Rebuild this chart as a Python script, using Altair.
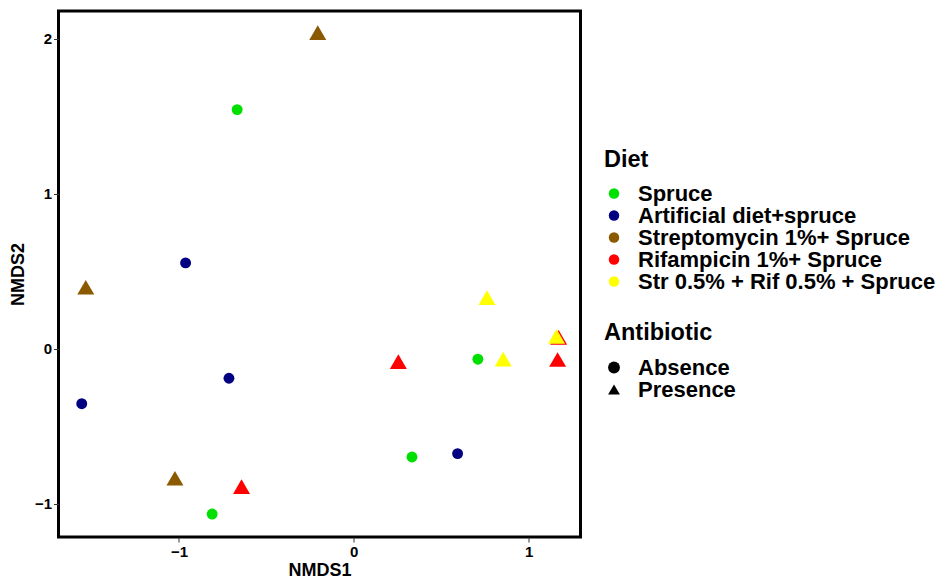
import altair as alt
import pandas as pd

# NMDS ordination scores per sample
nmds1 = [-0.667, 0.710, 0.333, -0.810,
         -0.962, -0.714, -1.556, 0.594,
         -0.206, -1.533, -1.023,
         -0.642, 0.255, 1.172, 1.166,
         0.762, 1.160, 0.855]
nmds2 = [1.544, -0.066, -0.697, -1.065,
         0.555, -0.189, -0.353, -0.675,
         2.040, 0.398, -0.834,
         -0.888, -0.082, 0.075, -0.068,
         0.331, 0.081, -0.065]
diet = (["Spruce"] * 4 + ["Artificial diet+spruce"] * 4
        + ["Streptomycin 1%+ Spruce"] * 3 + ["Rifampicin 1%+ Spruce"] * 4
        + ["Str 0.5% + Rif 0.5% + Spruce"] * 3)
antibiotic = ["Absence"] * 8 + ["Presence"] * 10

diet_levels = ["Spruce", "Artificial diet+spruce", "Streptomycin 1%+ Spruce",
               "Rifampicin 1%+ Spruce", "Str 0.5% + Rif 0.5% + Spruce"]
diet_colors = ["#00E000", "#000080", "#8B5A00", "#FF0000", "#FFFF00"]
ab_levels = ["Absence", "Presence"]

df = pd.DataFrame({"NMDS1": nmds1, "NMDS2": nmds2,
                   "Diet": diet, "Antibiotic": antibiotic})

FONT = "Liberation Sans"

chart = alt.Chart(df).transform_calculate(
    # triangles drawn larger than circles, as in R's pch 16 / 17
    marker_size="datum.Antibiotic == 'Presence' ? 289 : 119"
).mark_point(filled=True, opacity=1, strokeWidth=0).encode(
    x=alt.X("NMDS1:Q",
            scale=alt.Scale(domain=[-1.689, 1.297], nice=False, zero=False),
            axis=alt.Axis(values=[-1, 0, 1], title="NMDS1")),
    y=alt.Y("NMDS2:Q",
            scale=alt.Scale(domain=[-1.213, 2.18], nice=False, zero=False),
            axis=alt.Axis(values=[-1, 0, 1, 2], title="NMDS2")),
    color=alt.Color("Diet:N",
                    scale=alt.Scale(domain=diet_levels, range=diet_colors),
                    legend=alt.Legend(title="Diet", orient="none",
                                      legendX=545.5, legendY=137,
                                      symbolType="circle", symbolSize=110,
                                      symbolOffset=-1, labelOffset=13,
                                      rowPadding=0, titlePadding=11)),
    shape=alt.Shape("Antibiotic:N",
                    scale=alt.Scale(domain=ab_levels,
                                    range=["circle", "triangle-up"]),
                    legend=alt.Legend(title="Antibiotic", orient="none",
                                      legendX=545.5, legendY=310,
                                      symbolFillColor="black",
                                      symbolStrokeWidth=0, symbolSize=140,
                                      symbolOffset=-1, labelOffset=13,
                                      rowPadding=0, titlePadding=12)),
    size=alt.Size("marker_size:Q", scale=None),
).properties(
    width=522, height=526,
    background="white",
    autosize=alt.AutoSizeParams(type="none"),
    padding={"left": 58.5, "top": 11, "right": 356.5, "bottom": 46},
).configure_view(
    stroke="black", strokeWidth=3, fill="white"
).configure_axis(
    grid=False, domain=False,
    tickColor="#333333", tickSize=5, tickWidth=1,
    labelFont=FONT, labelFontSize=15, labelFontWeight="bold", labelColor="black",
    labelPadding=2,
    titleFont=FONT, titleFontSize=18, titleFontWeight="bold", titleColor="black",
).configure_axisX(
    titlePadding=2
).configure_axisY(
    titlePadding=7
).configure_legend(
    titleFont=FONT, titleFontSize=23.5, titleFontWeight="bold", titleColor="black",
    labelFont=FONT, labelFontSize=22, labelFontWeight="bold", labelColor="black",
    labelLimit=400,
)

chart.save("out.html", embed_options={"renderer": "svg", "actions": False})
